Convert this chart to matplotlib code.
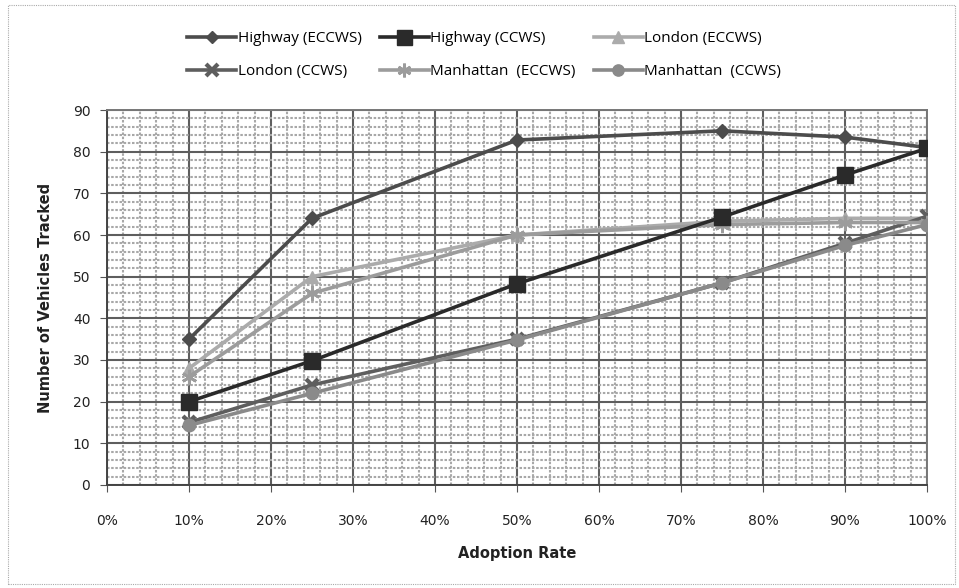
import matplotlib.pyplot as plt
from matplotlib.ticker import MultipleLocator, FuncFormatter

# adoption rate in percent
adoption = [10, 25, 50, 75, 90, 100]

highway_eccws = [35, 64, 82.8, 85, 83.5, 81]
highway_ccws = [20, 29.8, 48.3, 64.3, 74.4, 80.8]
london_eccws = [28, 50, 60, 63.3, 64, 64]
london_ccws = [15, 24, 35, 48.5, 58, 64.5]
manhattan_eccws = [26, 46, 60, 62.5, 63, 63]
manhattan_ccws = [14.3, 22, 34.8, 48.5, 57.5, 62.5]

labels = ["Highway (ECCWS)", "Highway (CCWS)", "London (ECCWS)",
          "London (CCWS)", "Manhattan  (ECCWS)", "Manhattan  (CCWS)"]

fig = plt.figure(figsize=(9.59, 5.88), dpi=100)
ax = fig.add_axes([0.1116, 0.1752, 0.855, 0.6377])

# dense "graph paper" grid
ax.set_xlim(0, 100)
ax.set_ylim(0, 90)
ax.xaxis.set_major_locator(MultipleLocator(10))
ax.yaxis.set_major_locator(MultipleLocator(10))
ax.xaxis.set_minor_locator(MultipleLocator(2))
ax.yaxis.set_minor_locator(MultipleLocator(2))
ax.grid(which='minor', color='#a8a8a8', lw=1.5, ls=(0, (1.2, 0.8)), zorder=0)
ax.grid(which='major', color='#5e5e5e', lw=1.5, zorder=1)
ax.set_axisbelow(True)
ax.tick_params(which='minor', length=0)
ax.tick_params(which='major', length=5, color='#555555', labelsize=10,
               labelcolor='#222222')
ax.tick_params(axis='x', pad=16)
ax.tick_params(axis='y', pad=7)
ax.xaxis.set_major_formatter(FuncFormatter(lambda v, p: "%d%%" % v))
for s in ax.spines.values():
    s.set_color('#777777')
    s.set_linewidth(1.4)
for s in ['left', 'bottom']:
    ax.spines[s].set_color('#444444')

lw = 2.6
ax.plot(adoption, highway_eccws, color='#4c4c4c', lw=lw, marker='D', ms=7,
        label=labels[0], zorder=5)
ax.plot(adoption, highway_ccws, color='#2a2a2a', lw=lw, marker='s', ms=12,
        label=labels[1], zorder=5)
ax.plot(adoption, london_eccws, color='#ababab', lw=lw, marker='^', ms=9,
        label=labels[2], zorder=4)
ax.plot(adoption, london_ccws, color='#5e5e5e', lw=lw, marker='x', ms=9,
        mew=3, label=labels[3], zorder=4)
ax.plot(adoption, manhattan_eccws, color='#9c9c9c', lw=lw, marker=(6, 2, 0),
        ms=11, mew=2, label=labels[4], zorder=4)
ax.plot(adoption, manhattan_ccws, color='#8a8a8a', lw=lw, marker='o', ms=9,
        label=labels[5], zorder=4)

ax.set_xlabel("Adoption Rate", fontsize=10.5, fontweight='bold',
              color='#222222', labelpad=13)
ax.set_ylabel("Number of Vehicles Tracked", fontsize=10.5, fontweight='bold',
              color='#222222', labelpad=14)

# legend filled row by row: 3 entries per row
handles, names = ax.get_legend_handles_labels()
order = [0, 3, 1, 4, 2, 5]
fig.legend([handles[i] for i in order], [names[i] for i in order],
           loc='center', bbox_to_anchor=(0.505, 0.906), ncol=3,
           frameon=False, handlelength=3.2, handletextpad=0.1,
           columnspacing=1.2, labelspacing=1.2, markerscale=0.9,
           prop={'family': 'Open Sans', 'size': 11})

# light outer frame
fig.patches.append(plt.Rectangle((0.008, 0.007), 0.988, 0.985,
                                 transform=fig.transFigure, fill=False,
                                 ec='#aaaaaa', lw=0.8, ls=(0, (1, 1))))

fig.savefig("out.png", dpi=100)
